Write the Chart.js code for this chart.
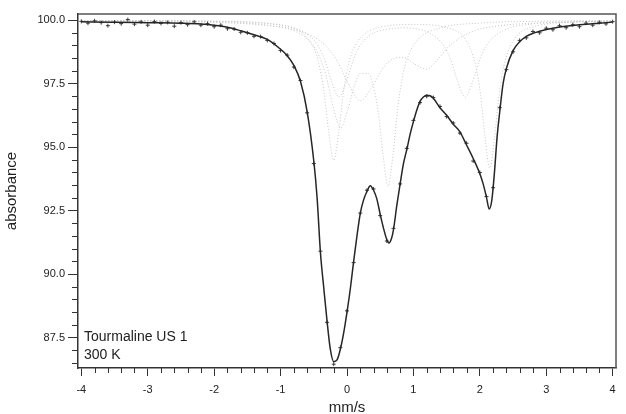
<!DOCTYPE html>
<html>
<head>
<meta charset="utf-8">
<script src="https://cdn.jsdelivr.net/npm/chart.js@4.4.0/dist/chart.umd.min.js"></script>
<style>
  html, body { margin: 0; padding: 0; background: #fff; }
  #wrap { width: 626px; height: 414px; }
</style>
</head>
<body>
<div id="wrap"><canvas id="spectrum" width="626" height="414"></canvas></div>
<script>
// fitted envelope (mm/s, absorbance %)
const fitVelocity = [-4.0, -3.5, -3.0, -2.5, -2.2, -2.0, -1.8, -1.6, -1.4, -1.2,
  -1.0, -0.9, -0.8, -0.7, -0.6, -0.5, -0.45, -0.4, -0.35, -0.3,
  -0.25, -0.2, -0.15, -0.1, -0.05, 0.0, 0.05, 0.1, 0.15, 0.2,
  0.25, 0.3, 0.35, 0.4, 0.45, 0.5, 0.55, 0.6, 0.63, 0.67,
  0.7, 0.75, 0.8, 0.85, 0.9, 0.95, 1.0, 1.05, 1.1, 1.15,
  1.2, 1.25, 1.3, 1.4, 1.5, 1.6, 1.7, 1.8, 1.9, 2.0,
  2.05, 2.1, 2.14, 2.18, 2.22, 2.26, 2.3, 2.35, 2.4, 2.5,
  2.6, 2.7, 2.8, 2.9, 3.0, 3.2, 3.4, 3.6, 3.8, 4.0];
const fitAbsorbance = [99.93, 99.92, 99.90, 99.88, 99.85, 99.80, 99.72, 99.58, 99.42, 99.24,
  98.85, 98.60, 98.22, 97.58, 96.40, 94.45, 93.00, 90.85, 89.46, 88.14,
  87.02, 86.55, 86.62, 87.04, 87.68, 88.50, 89.42, 90.50, 91.50, 92.39,
  92.92, 93.25, 93.48, 93.30, 92.95, 92.35, 91.80, 91.35, 91.22, 91.40,
  91.75, 92.70, 93.55, 94.35, 94.90, 95.50, 96.00, 96.45, 96.80, 96.97,
  97.04, 97.02, 96.92, 96.55, 96.25, 95.90, 95.60, 95.08, 94.55, 93.95,
  93.55, 93.02, 92.56, 92.90, 94.00, 95.40, 96.40, 97.50, 98.10, 98.80,
  99.15, 99.36, 99.48, 99.56, 99.63, 99.73, 99.79, 99.84, 99.88, 99.92];

// measured counts
const dataVelocity = [-4.0, -3.9, -3.8, -3.7, -3.6, -3.5, -3.4, -3.3, -3.2, -3.1,
  -3.0, -2.9, -2.8, -2.7, -2.6, -2.5, -2.4, -2.3, -2.2, -2.1,
  -2.0, -1.9, -1.8, -1.7, -1.6, -1.5, -1.4, -1.3, -1.2, -1.1,
  -1.0, -0.9, -0.8, -0.7, -0.6, -0.5, -0.4, -0.3, -0.2, -0.1,
  0.0, 0.1, 0.2, 0.3, 0.4, 0.5, 0.6, 0.7, 0.8, 0.9,
  1.0, 1.1, 1.2, 1.3, 1.4, 1.5, 1.6, 1.7, 1.8, 1.9,
  2.0, 2.1, 2.2, 2.3, 2.4, 2.5, 2.6, 2.7, 2.8, 2.9,
  3.0, 3.1, 3.2, 3.3, 3.4, 3.5, 3.6, 3.7, 3.8, 3.9, 4.0];
const dataAbsorbance = [99.95, 99.88, 99.97, 99.90, 99.78, 99.92, 99.86, 100.02, 99.84, 99.93,
  99.80, 99.94, 99.87, 99.91, 99.76, 99.90, 99.82, 99.93, 99.80, 99.86,
  99.74, 99.80, 99.66, 99.65, 99.52, 99.50, 99.36, 99.35, 99.20, 99.08,
  98.80, 98.62, 98.15, 97.62, 96.35, 94.35, 90.90, 88.10, 86.45, 87.10,
  88.55, 90.45, 92.40, 93.30, 93.35, 92.30, 91.30, 91.80, 93.55, 94.95,
  96.05, 96.75, 97.00, 96.95, 96.60, 96.20, 95.95, 95.55, 95.15, 94.45,
  94.00, 93.05, 93.40, 96.55, 98.05, 98.75, 99.20, 99.30, 99.55, 99.50,
  99.68, 99.62, 99.78, 99.70, 99.82, 99.74, 99.88, 99.80, 99.91, 99.85, 99.94];

// subspectra (quadrupole doublets)
const site1Velocity = [-4.0, -2.0, -1.2, -0.8, -0.65, -0.5, -0.425, -0.35, -0.275, -0.2,
  -0.125, -0.05, 0.025, 0.1, 0.25, 0.6, 1.0, 1.5, 1.8, 1.94,
  2.01, 2.08, 2.15, 2.22, 2.29, 2.36, 2.5, 2.85, 3.4, 4.0];
const site1Absorbance = [99.99, 99.96, 99.87, 99.67, 99.44, 98.89, 98.30, 97.24, 95.58, 94.48,
  95.58, 97.23, 98.29, 98.88, 99.42, 99.77, 99.83, 99.70, 99.17, 98.18,
  97.07, 95.33, 94.17, 95.33, 97.07, 98.18, 99.17, 99.76, 99.92, 99.96];

const site2Velocity = [-4.0, -2.0, -1.2, -0.78, -0.56, -0.45, -0.34, -0.23, -0.12, -0.01,
  0.10, 0.21, 0.32, 0.54, 0.9, 1.24, 1.45, 1.56, 1.67, 1.78,
  1.89, 2.0, 2.11, 2.34, 2.8, 3.4, 4.0];
const site2Absorbance = [99.99, 99.95, 99.87, 99.68, 99.37, 99.05, 98.47, 97.57, 96.97, 97.57,
  98.46, 99.04, 99.35, 99.61, 99.69, 99.49, 99.02, 98.45, 97.56, 96.96,
  97.56, 98.46, 99.04, 99.57, 99.85, 99.93, 99.96];

const site3Velocity = [-4.0, -2.0, -1.2, -0.76, -0.54, -0.43, -0.32, -0.21, -0.10, 0.01,
  0.12, 0.2, 0.32, 0.395, 0.47, 0.545, 0.62, 0.695, 0.77, 0.845,
  0.92, 1.07, 1.4, 2.0, 3.0, 4.0];
const site3Absorbance = [99.98, 99.93, 99.80, 99.53, 99.10, 98.64, 97.85, 96.60, 95.74, 96.45,
  97.49, 97.90, 97.90, 97.43, 96.38, 94.63, 93.46, 94.76, 96.66, 97.88,
  98.58, 99.24, 99.69, 99.88, 99.96, 99.98];

const site4Velocity = [-4.0, -3.0, -2.0, -1.2, -0.85, -0.5, -0.325, -0.15, 0.025, 0.2,
  0.375, 0.55, 0.7, 0.85, 1.025, 1.2, 1.375, 1.55, 1.9, 2.25,
  3.0, 4.0];
const site4Absorbance = [99.97, 99.95, 99.91, 99.79, 99.66, 99.34, 99.00, 98.40, 97.47, 96.83,
  97.36, 98.14, 98.48, 98.53, 98.26, 98.07, 98.48, 99.01, 99.56, 99.76,
  99.90, 99.95];

const xTickValues = [-4, -3, -2, -1, 0, 1, 2, 3, 4];
const yTickValues = [87.5, 90.0, 92.5, 95.0, 97.5, 100.0];
const sampleLabel = ['Tourmaline US 1', '300 K'];

const toPoints = (xs, ys) => xs.map((x, i) => ({ x: x, y: ys[i] }));
const FONT = '"Liberation Sans", Arial, Helvetica, sans-serif';

const subspectrum = (xs, ys) => ({
  data: toPoints(xs, ys),
  borderColor: '#c6c6c6',
  borderWidth: 1,
  borderDash: [1, 2],
  pointRadius: 0,
  cubicInterpolationMode: 'monotone',
  fill: false
});

// minor ticks, the box frame and the sample caption
const decorations = {
  id: 'decorations',
  afterDraw(chart) {
    const ctx = chart.ctx;
    const area = chart.chartArea;
    const xs = chart.scales.x;
    const ys = chart.scales.y;
    ctx.save();
    ctx.strokeStyle = '#333';
    ctx.lineWidth = 1;
    ctx.beginPath();
    for (let k = -20; k <= 20; k++) {
      if (k % 5 === 0) continue;
      const px = Math.round(xs.getPixelForValue(k / 5)) + 0.5;
      ctx.moveTo(px, area.bottom);
      ctx.lineTo(px, area.bottom + 5);
    }
    for (let k = 173; k <= 200; k++) {
      if (k % 5 === 0) continue;
      const py = Math.round(ys.getPixelForValue(k / 2)) + 0.5;
      ctx.moveTo(area.left, py);
      ctx.lineTo(area.left - 6, py);
    }
    ctx.stroke();

    ctx.strokeStyle = '#555';
    ctx.lineWidth = 1.5;
    ctx.beginPath();
    ctx.moveTo(area.left, area.top);
    ctx.lineTo(area.right, area.top);
    ctx.lineTo(area.right, area.bottom);
    ctx.stroke();

    ctx.fillStyle = '#222';
    ctx.font = '14px ' + FONT;
    ctx.textBaseline = 'middle';
    ctx.textAlign = 'left';
    ctx.fillText(sampleLabel[0], area.left + 6, 337);
    ctx.fillText(sampleLabel[1], area.left + 6, 355);
    ctx.restore();
  }
};

new Chart(document.getElementById('spectrum'), {
  type: 'line',
  data: {
    datasets: [
      {
        data: toPoints(fitVelocity, fitAbsorbance),
        borderColor: '#262626',
        borderWidth: 1.5,
        pointRadius: 0,
        cubicInterpolationMode: 'monotone',
        fill: false
      },
      {
        data: toPoints(dataVelocity, dataAbsorbance),
        showLine: false,
        pointStyle: 'cross',
        pointRadius: 2,
        borderWidth: 1,
        borderColor: '#3a3a3a'
      },
      subspectrum(site1Velocity, site1Absorbance),
      subspectrum(site2Velocity, site2Absorbance),
      subspectrum(site3Velocity, site3Absorbance),
      subspectrum(site4Velocity, site4Absorbance)
    ]
  },
  options: {
    responsive: false,
    animation: false,
    devicePixelRatio: 1,
    layout: { padding: { top: 14, right: 10, left: 0, bottom: 0 } },
    plugins: { legend: { display: false }, tooltip: { enabled: false } },
    scales: {
      x: {
        type: 'linear',
        min: -4.05,
        max: 4.05,
        afterBuildTicks: (scale) => { scale.ticks = xTickValues.map(v => ({ value: v })); },
        afterFit: (scale) => { scale.height = 46; },
        ticks: { color: '#222', font: { family: FONT, size: 11 }, padding: 7, maxRotation: 0, callback: v => String(v) },
        grid: { drawOnChartArea: false, drawTicks: true, tickLength: 8, tickColor: '#333' },
        border: { display: true, color: '#333', width: 1.5 },
        title: { display: true, text: 'mm/s', color: '#222', font: { family: FONT, size: 15, lineHeight: 1 }, padding: { top: 0, bottom: -1 } }
      },
      y: {
        type: 'linear',
        min: 86.3,
        max: 100.24,
        afterBuildTicks: (scale) => { scale.ticks = yTickValues.map(v => ({ value: v })); },
        afterFit: (scale) => { scale.width = 78; },
        ticks: { color: '#222', font: { family: FONT, size: 11 }, padding: 3, callback: v => v.toFixed(1) },
        grid: { drawOnChartArea: false, drawTicks: true, tickLength: 10, tickColor: '#333' },
        border: { display: true, color: '#333', width: 1.5 },
        title: { display: true, text: 'absorbance', color: '#222', font: { family: FONT, size: 15, lineHeight: 1.2 }, padding: { top: 3, bottom: 0 } }
      }
    }
  },
  plugins: [decorations]
});
</script>
</body>
</html>
